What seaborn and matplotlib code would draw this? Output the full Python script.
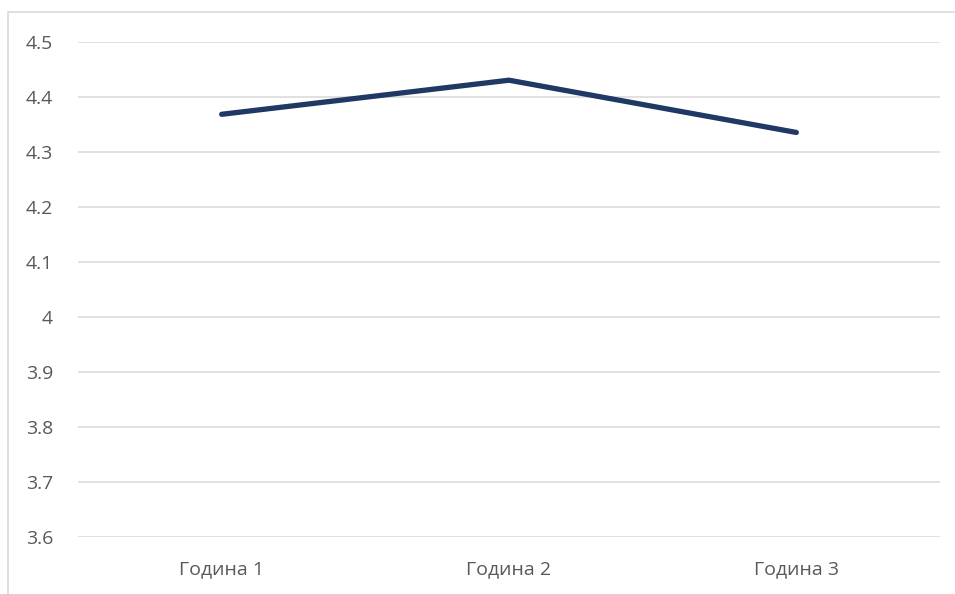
import matplotlib
matplotlib.use("Agg")
import matplotlib.pyplot as plt
import seaborn as sns
import pandas as pd
from matplotlib.patches import Rectangle

# Average score per year
years = ["Година 1", "Година 2", "Година 3"]
scores = [4.368, 4.430, 4.335]

y_ticks = [3.6, 3.7, 3.8, 3.9, 4.0, 4.1, 4.2, 4.3, 4.4, 4.5]
y_tick_labels = ["3.6", "3.7", "3.8", "3.9", "4", "4.1", "4.2", "4.3", "4.4", "4.5"]

df = pd.DataFrame({"year": years, "score": scores})

sns.set_theme(style="white")
plt.rcParams["font.family"] = ["Open Sans", "DejaVu Sans"]

W, H = 955, 594
fig = plt.figure(figsize=(W / 100, H / 100), dpi=100)
fig.patch.set_facecolor("white")

# Chart-area border (open to the right and bottom)
fig.add_artist(Rectangle((8 / W, -0.1), 1.2, 1 - 12 / H + 0.1,
                         transform=fig.transFigure, fill=False,
                         edgecolor="#d9d9d9", linewidth=1.2))

left, right = 78 / W, 940 / W
bottom, top = 1 - 536.7 / H, 1 - 41.7 / H
ax = fig.add_axes([left, bottom, right - left, top - bottom])

sns.lineplot(data=df, x="year", y="score", ax=ax, color="#203864",
             linewidth=3.8, solid_capstyle="round", sort=False)

ax.set_xlim(-0.5, len(years) - 0.5)
ax.set_ylim(y_ticks[0], y_ticks[-1])
ax.set_yticks(y_ticks)
ax.set_yticklabels(y_tick_labels)
ax.yaxis.grid(True, color="#dedede", linewidth=1.3)
ax.set_axisbelow(True)
for s in ax.spines.values():
    s.set_visible(False)
ax.tick_params(axis="y", length=0, pad=18, labelsize=14, labelcolor="#595959")
ax.tick_params(axis="x", length=0, pad=17, labelsize=14, labelcolor="#595959")
ax.set_xlabel("")
ax.set_ylabel("")

fig.savefig("out.png", dpi=100, facecolor="white")
